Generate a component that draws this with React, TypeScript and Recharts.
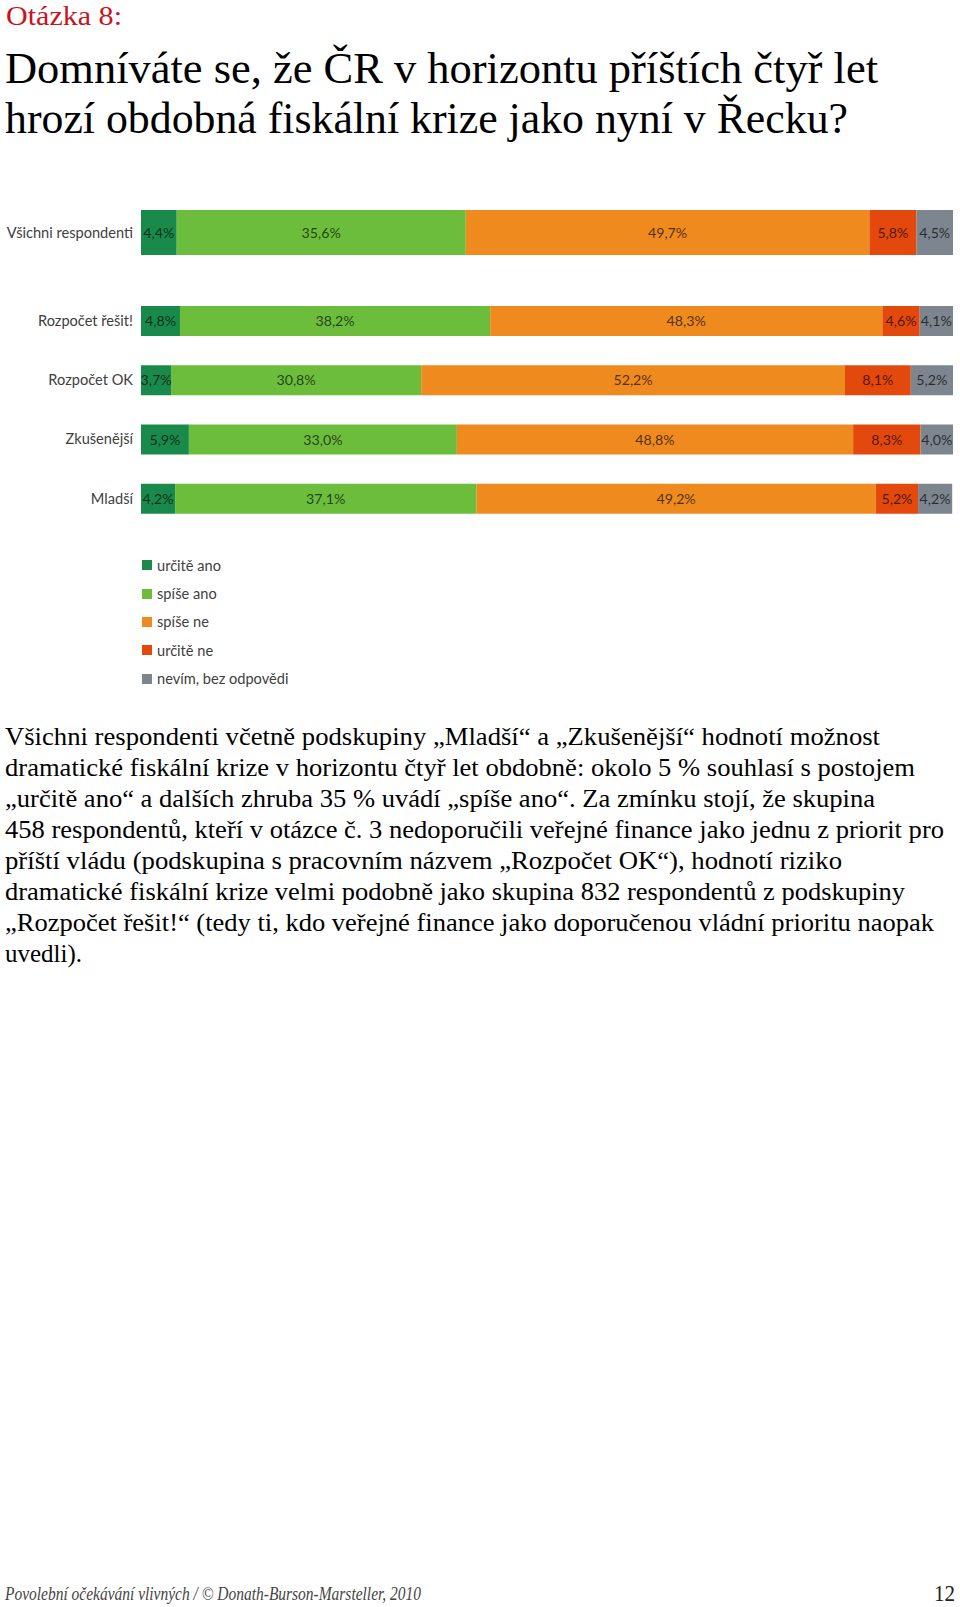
import React from 'react';
import { BarChart, Bar, XAxis, YAxis, LabelList, Legend } from 'recharts';

const categories = ['Všichni respondenti', 'Rozpočet řešit!', 'Rozpočet OK', 'Zkušenější', 'Mladší'];
const urciteAno = [4.4, 4.8, 3.7, 5.9, 4.2];
const spiseAno = [35.6, 38.2, 30.8, 33.0, 37.1];
const spiseNe = [49.7, 48.3, 52.2, 48.8, 49.2];
const urciteNe = [5.8, 4.6, 8.1, 8.3, 5.2];
const nevim = [4.5, 4.1, 5.2, 4.0, 4.2];

const seriesNames = ['určitě ano', 'spíše ano', 'spíše ne', 'určitě ne', 'nevím, bez odpovědi'];
const seriesKeys = ['urciteAno', 'spiseAno', 'spiseNe', 'urciteNe', 'nevim'];
const seriesColors = ['#1A8A4C', '#6CBD3C', '#EE8A1E', '#E3480C', '#7D858E'];
const seriesValues = [urciteAno, spiseAno, spiseNe, urciteNe, nevim];

const rows = categories.map((name, i) => {
  const r: any = { name };
  seriesKeys.forEach((k, j) => { r[k] = seriesValues[j][i]; });
  return r;
});

const titleSmall = 'Otázka 8:';
const titleLines = [
  'Domníváte se, že ČR v horizontu příštích čtyř let',
  'hrozí obdobná fiskální krize jako nyní v Řecku?',
];
const paragraphLines = [
  'Všichni respondenti včetně podskupiny „Mladší“ a „Zkušenější“ hodnotí možnost',
  'dramatické fiskální krize v horizontu čtyř let obdobně: okolo 5 % souhlasí s postojem',
  '„určitě ano“ a dalších zhruba 35 % uvádí „spíše ano“. Za zmínku stojí, že skupina',
  '458 respondentů, kteří v otázce č. 3 nedoporučili veřejné finance jako jednu z priorit pro',
  'příští vládu (podskupina s pracovním názvem „Rozpočet OK“), hodnotí riziko',
  'dramatické fiskální krize velmi podobně jako skupina 832 respondentů z podskupiny',
  '„Rozpočet řešit!“ (tedy ti, kdo veřejné finance jako doporučenou vládní prioritu naopak',
  'uvedli).',
];
const paragraphWidths = [875, 910, 870, 939, 837, 900, 929, 77];
const footerText = 'Povolební očekávání vlivných / © Donath-Burson-Marsteller, 2010';
const pageNumber = '12';

const fmt = (v: any) => Number(v).toFixed(1).replace('.', ',') + '%';

const FONT = 'Lato, "Open Sans", sans-serif';
const SERIF = '"Liberation Serif", "DejaVu Serif", serif';

const renderLegend = (props: any) => {
  const payload = [...(props.payload || [])].sort(
    (a: any, b: any) => seriesKeys.indexOf(a.dataKey) - seriesKeys.indexOf(b.dataKey)
  );
  return (
    <div>
      {payload.map((p: any) => (
        <div key={p.value} style={{ height: 28.4, display: 'flex', alignItems: 'center' }}>
          <span style={{ width: 10, height: 10, background: p.color, display: 'inline-block', marginRight: 5 }} />
          <span style={{ fontFamily: FONT, fontSize: 14.6, color: '#404040' }}>{p.value}</span>
        </div>
      ))}
    </div>
  );
};

function bars() {
  return seriesKeys.map((k, j) => (
    <Bar key={k} dataKey={k} name={seriesNames[j]} stackId="a" fill={seriesColors[j]} isAnimationActive={false}>
      <LabelList
        dataKey={k}
        position="center"
        formatter={fmt}
        fill="#000"
        fillOpacity={0.68}
        fontSize={14.2}
        fontFamily={FONT}
      />
    </Bar>
  ));
}

export default function App() {
  return (
    <div style={{ position: 'absolute', left: 0, top: 0, width: 960, height: 1607, background: '#fff', overflow: 'hidden' }}>
      <svg width={960} height={1607} style={{ position: 'absolute', left: 0, top: 0 }}>
        <text x={6} y={25} fontFamily={SERIF} fontSize={28} fill="#C8141E" textLength={116} lengthAdjust="spacingAndGlyphs">
          {titleSmall}
        </text>
        <text x={5} y={83} fontFamily={SERIF} fontSize={44} fill="#000" textLength={873} lengthAdjust="spacingAndGlyphs">
          {titleLines[0]}
        </text>
        <text x={5} y={133} fontFamily={SERIF} fontSize={44} fill="#000" textLength={843} lengthAdjust="spacingAndGlyphs">
          {titleLines[1]}
        </text>
        {paragraphLines.map((t, i) => (
          <text key={i} x={5} y={745 + i * 31} fontFamily={SERIF} fontSize={25} fill="#000" textLength={paragraphWidths[i]} lengthAdjust="spacingAndGlyphs">
            {t}
          </text>
        ))}
        <text x={5} y={1600} fontFamily={SERIF} fontStyle="italic" fontSize={19} fill="#444" textLength={416} lengthAdjust="spacingAndGlyphs">
          {footerText}
        </text>
        <text x={934} y={1601} fontFamily={SERIF} fontSize={24} fill="#222" textLength={21} lengthAdjust="spacingAndGlyphs">
          {pageNumber}
        </text>
      </svg>

      <div style={{ position: 'absolute', left: 0, top: 200 }}>
        <BarChart width={960} height={65} data={rows.slice(0, 1)} layout="vertical" margin={{ top: 0, right: 7, bottom: 0, left: 0 }} barSize={45}>
          <XAxis type="number" domain={[0, 100]} hide />
          <YAxis type="category" dataKey="name" width={141} axisLine={false} tickLine={false} tickSize={0} tickMargin={8}
            tick={{ fill: '#404040', fontSize: 14.6, fontFamily: FONT }} />
          {bars()}
        </BarChart>
      </div>

      <div style={{ position: 'absolute', left: 0, top: 291 }}>
        <BarChart width={960} height={420} data={rows.slice(1)} layout="vertical" margin={{ top: 0, right: 7, bottom: 183, left: 0 }} barSize={30}>
          <XAxis type="number" domain={[0, 100]} hide />
          <YAxis type="category" dataKey="name" width={141} axisLine={false} tickLine={false} tickSize={0} tickMargin={8}
            tick={{ fill: '#404040', fontSize: 14.6, fontFamily: FONT }} />
          <Legend layout="vertical" verticalAlign="middle" align="center" content={renderLegend}
            wrapperStyle={{ position: 'absolute', top: 260, left: 142, width: 240, height: 142 }} />
          {bars()}
        </BarChart>
      </div>
    </div>
  );
}
